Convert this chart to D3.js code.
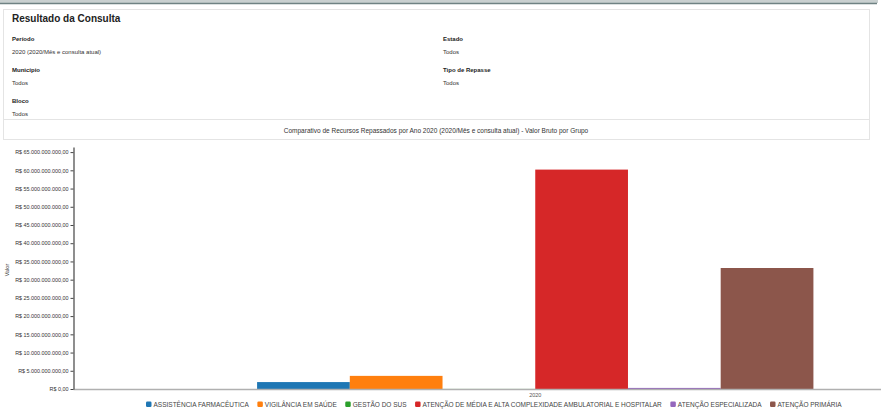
<!DOCTYPE html>
<html>
<head>
<meta charset="utf-8">
<script src="https://cdn.jsdelivr.net/npm/d3@7"></script>
<style>
  html, body { margin: 0; padding: 0; background: #fff; }
  svg { display: block; font-family: "Liberation Sans", Arial, sans-serif; }
</style>
</head>
<body>
<svg id="chart" width="881" height="418"></svg>
<script>
// ---- data ----
const categories = ["2020"];
const seriesNames = [
  "ASSISTÊNCIA FARMACÊUTICA",
  "VIGILÂNCIA EM SAÚDE",
  "GESTÃO DO SUS",
  "ATENÇÃO DE MÉDIA E ALTA COMPLEXIDADE AMBULATORIAL E HOSPITALAR",
  "ATENÇÃO ESPECIALIZADA",
  "ATENÇÃO PRIMÁRIA"
];
const seriesValues = [1.9e9, 3.6e9, 0.02e9, 60.2e9, 0.3e9, 33.2e9];
const seriesColors = ["#1f77b4", "#ff7f0e", "#2ca02c", "#d62728", "#9467bd", "#8c564b"];
const yTicks = [0, 5e9, 10e9, 15e9, 20e9, 25e9, 30e9, 35e9, 40e9, 45e9, 50e9, 55e9, 60e9, 65e9];
const yMax = 66.4e9;

const headerTitle = "Resultado da Consulta";
const filterLeft = [["Período", "2020 (2020/Mês e consulta atual)"], ["Município", "Todos"], ["Bloco", "Todos"]];
const filterRight = [["Estado", "Todos"], ["Tipo de Repasse", "Todos"]];
const chartCaption = "Comparativo de Recursos Repassados por Ano 2020 (2020/Mês e consulta atual) - Valor Bruto por Grupo";
const yAxisLabel = "Valor";

// ---- formatting ----
const ptBR = d3.formatLocale({decimal: ",", thousands: ".", grouping: [3], currency: ["R$ ", ""]});
const fmt = v => "R$ " + ptBR.format(",.2f")(v);

const svg = d3.select("#chart");

// ---- header panel ----
svg.append("rect").attr("x", 0).attr("y", 0).attr("width", 878).attr("height", 3).attr("fill", "#c9d0d0");
svg.append("line").attr("x1", 0).attr("x2", 877).attr("y1", 3.5).attr("y2", 3.5).attr("stroke", "#6f8283").attr("stroke-width", 1.5);
svg.append("rect").attr("x", 3.5).attr("y", 9.5).attr("width", 866).attr("height", 110)
  .attr("fill", "#fff").attr("stroke", "#e4e4e4");
svg.append("rect").attr("x", 3.5).attr("y", 119.5).attr("width", 866).attr("height", 20)
  .attr("fill", "#fff").attr("stroke", "#e4e4e4");

svg.append("text").attr("x", 12).attr("y", 22).attr("font-size", 10).attr("font-weight", "bold")
  .attr("fill", "#222").text(headerTitle);

function drawFilters(list, x) {
  list.forEach((d, i) => {
    const y0 = 41 + i * 31;
    svg.append("text").attr("x", x).attr("y", y0).attr("font-size", 6).attr("font-weight", "bold")
      .attr("fill", "#222").text(d[0]);
    svg.append("text").attr("x", x).attr("y", y0 + 13).attr("font-size", 6)
      .attr("fill", "#333").text(d[1]);
  });
}
drawFilters(filterLeft, 12);
drawFilters(filterRight, 443);

svg.append("text").attr("x", 436).attr("y", 133).attr("font-size", 6.5).attr("text-anchor", "middle")
  .attr("fill", "#333").text(chartCaption);

// ---- chart ----
const plot = {left: 73.5, top: 147, bottom: 389, right: 997};
const x0 = d3.scaleBand().domain(categories).range([plot.left, plot.right]).paddingInner(0).paddingOuter(0.33);
const x1 = d3.scaleBand().domain(seriesNames).range([0, x0.bandwidth()]).padding(0);
const y = d3.scaleLinear().domain([0, yMax]).range([plot.bottom, plot.top]);

const g = svg.append("g");
categories.forEach(cat => {
  g.selectAll("rect.bar-" + cat).data(seriesNames.map((s, i) => ({s, v: seriesValues[i], c: seriesColors[i]})))
    .join("rect")
    .attr("x", d => x0(cat) + x1(d.s))
    .attr("width", x1.bandwidth())
    .attr("y", d => y(d.v))
    .attr("height", d => Math.max(0, plot.bottom - y(d.v)))
    .attr("fill", d => d.c);
});

// x axis
const xAxis = svg.append("g").attr("transform", `translate(0,${plot.bottom})`)
  .call(d3.axisBottom(x0).tickSize(0).tickPadding(4));
xAxis.select(".domain").attr("stroke", "#b0b0b0").attr("stroke-width", 1.5)
  .attr("d", `M${plot.left},0.5H881`);
xAxis.selectAll("text").attr("font-size", 5.5).attr("fill", "#555").attr("font-family", "Liberation Sans, Arial, sans-serif");

// y axis
const yAxis = svg.append("g").attr("transform", `translate(${plot.left},0)`)
  .call(d3.axisLeft(y).tickValues(yTicks).tickFormat(fmt).tickSize(3).tickSizeOuter(0).tickPadding(2));
yAxis.select(".domain").attr("stroke", "#444").attr("stroke-width", 1.2);
yAxis.selectAll(".tick line").attr("stroke", "#444");
yAxis.selectAll("text").attr("font-size", 5.4).attr("fill", "#333").attr("font-family", "Liberation Sans, Arial, sans-serif");

svg.append("text").attr("transform", `translate(9,${(plot.top + plot.bottom) / 2 + 2}) rotate(-90)`)
  .attr("text-anchor", "middle").attr("font-size", 5.5).attr("fill", "#333").text(yAxisLabel);

// ---- legend ----
const legend = svg.append("g").attr("transform", "translate(146,406)");
let lx = 0;
seriesNames.forEach((s, i) => {
  const item = legend.append("g").attr("transform", `translate(${lx},0)`);
  item.append("rect").attr("x", 0).attr("y", -4.5).attr("width", 5.5).attr("height", 5.5).attr("rx", 1.2)
    .attr("fill", seriesColors[i]);
  const t = item.append("text").attr("x", 7.5).attr("y", 0.5).attr("font-size", 6.5).attr("fill", "#444").text(s);
  lx += 7.5 + t.node().getComputedTextLength() + 8.5;
});
</script>
</body>
</html>
